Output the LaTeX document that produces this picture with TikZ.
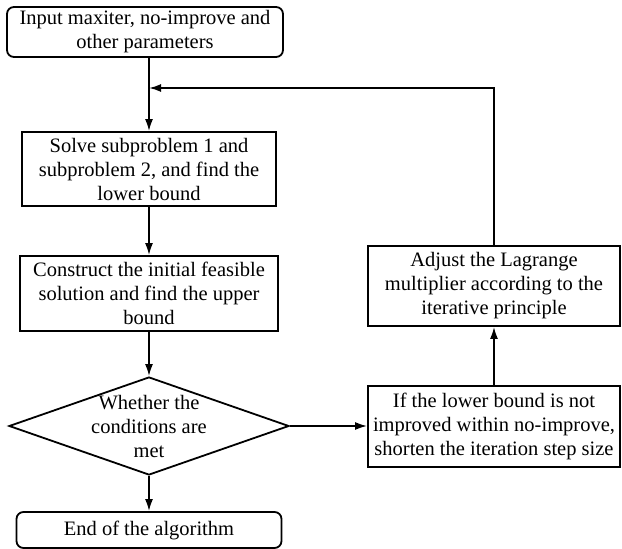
\documentclass[tikz,border=0pt]{standalone}
\usepackage{fontspec}
\setmainfont{Liberation Serif}
\usetikzlibrary{positioning,shapes,arrows.meta}
\tikzset{%
	stepbox/.style={%
		rectangle,
		draw,
		line width=1.8pt,
		align=center,
		inner sep=0pt
	},
	terminal/.style={%
		stepbox,
		rounded corners=7pt
	},
	decision/.style={%
		diamond,
		draw,
		line width=1.8pt,
		inner sep=0pt,
		minimum width=280pt,
		minimum height=98pt
	}
}

\begin{document}
\begin{tikzpicture}[x=1pt, y=-1pt, font=\fontsize{20.5}{24}\selectfont, flow/.style={line width=1.8pt, -{Latex[length=12pt,width=8pt]}}]
        \useasboundingbox (0,0) rectangle (622,549);
        \node [terminal, minimum width=276pt, minimum height=50pt] (input) at (145,32) {Input maxiter, no-improve and\\other parameters};
        \node [stepbox, minimum width=254pt, minimum height=74pt] (solve) at (149,169) {Solve subproblem 1 and\\subproblem 2, and find the\\lower bound};
        \node [stepbox, minimum width=258pt, minimum height=75pt] (construct) at (149,293.5) {Construct the initial feasible\\solution and find the upper\\bound};
        \node [decision, label={[align=center]center:{Whether the\\conditions are\\met}}] (check) at (149,426) {};
        \node [terminal, minimum width=265pt, minimum height=36pt] (finish) at (149,530) {End of the algorithm};
        \node [stepbox, minimum width=252pt, minimum height=81pt] (shorten) at (494,426.5) {If the lower bound is not\\improved within no-improve,\\shorten the iteration step size};
        \node [stepbox, minimum width=252pt, minimum height=80pt] (adjust) at (494,286) {Adjust the Lagrange\\multiplier according to the\\iterative principle};
        \coordinate (join) at (149,88);
        \draw [flow] (input.south -| solve.north) -- (solve.north);
        \draw [flow] (solve) -- (construct);
        \draw [flow] (construct) -- (check);
        \draw [flow] (check) -- (finish);
        \draw [flow] (check.east) -- (check.east -| shorten.west);
        \draw [flow] (shorten) -- (adjust);
        \draw [flow] (adjust.north) |- (join);
    \end{tikzpicture}
\end{document}
